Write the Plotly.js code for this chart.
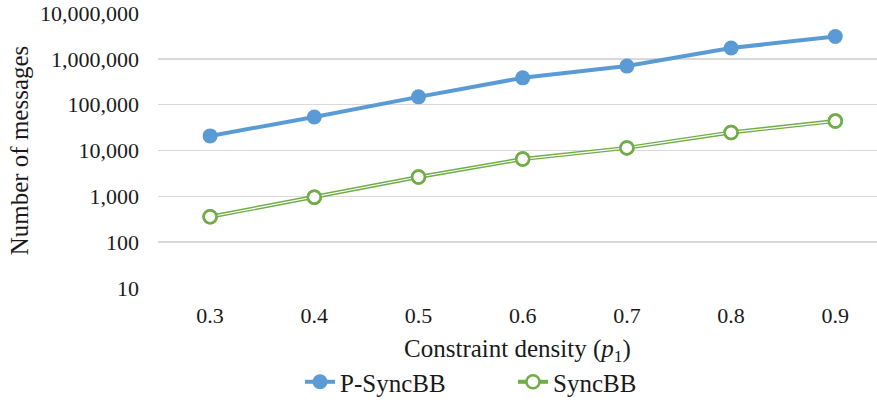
<!DOCTYPE html>
<html>
<head>
<meta charset="utf-8">
<script src="https://cdn.plot.ly/plotly-3.0.1.min.js"></script>
<style>html,body{margin:0;padding:0;background:#fff;}#chart{width:877px;height:406px;}</style>
</head>
<body>
<div id="chart"></div>
<script>
const density = [0.3, 0.4, 0.5, 0.6, 0.7, 0.8, 0.9];
const pSyncBB = [20800, 54000, 148000, 385000, 695000, 1720000, 3080000];
const syncBB = [358, 960, 2640, 6500, 11400, 24800, 43800];
const yTickVals = [10, 100, 1000, 10000, 100000, 1000000, 10000000];
const yTickText = ['10', '100', '1,000', '10,000', '100,000', '1,000,000', '10,000,000'];
const xTickText = ['0.3', '0.4', '0.5', '0.6', '0.7', '0.8', '0.9'];

const FONT = '"Liberation Serif", "Times New Roman", serif';
const TXT = '#1a1a1a';
const blue = '#5b9bd5';
const green = '#70ad47';

const traces = [
  {
    x: density, y: pSyncBB, name: 'P-SyncBB', mode: 'lines+markers',
    line: {color: blue, width: 4},
    marker: {symbol: 'circle', size: 15, color: blue}
  },
  {
    x: density, y: syncBB, name: 'SyncBB', mode: 'lines+markers',
    line: {color: green, width: 4},
    marker: {symbol: 'circle', size: 13, color: '#ffffff', line: {color: green, width: 2.5}}
  },
  {
    x: density, y: syncBB, name: 'SyncBB-inner', mode: 'lines', showlegend: false, hoverinfo: 'skip',
    line: {color: '#ffffff', width: 1.2}
  },
  {
    x: density, y: syncBB, name: 'SyncBB-markers', mode: 'markers', showlegend: false, hoverinfo: 'skip',
    marker: {symbol: 'circle', size: 13, color: 'rgba(255,255,255,0)', line: {color: green, width: 2.5}}
  }
];

const layout = {
  width: 877, height: 406,
  margin: {l: 158, r: 0, t: 13, b: 118},
  paper_bgcolor: '#ffffff', plot_bgcolor: '#ffffff',
  font: {family: FONT, size: 22, color: TXT},
  showlegend: true,
  legend: {
    orientation: 'h', xref: 'paper', x: 0.1975, xanchor: 'left',
    y: -0.342, yanchor: 'middle',
    font: {family: FONT, size: 25, color: TXT},
    entrywidth: 168, itemwidth: 30
  },
  xaxis: {
    type: 'linear', range: [0.25, 0.94],
    tickvals: density, ticktext: xTickText,
    showgrid: false, zeroline: false, showline: false, ticks: '',
    ticklabelstandoff: 12,
    tickfont: {family: FONT, size: 22, color: TXT},
    title: {text: 'Constraint density (<i>p</i><sub>1</sub>)', font: {family: FONT, size: 25, color: TXT}, standoff: 12},
    automargin: false
  },
  yaxis: {
    type: 'log', range: [1, 7],
    tickvals: yTickVals, ticktext: yTickText,
    showgrid: true, gridcolor: '#d9d9d9', gridwidth: 1.5,
    zeroline: false, showline: false, ticks: '',
    ticklabelstandoff: 18,
    tickfont: {family: FONT, size: 22, color: TXT},
    title: {text: 'Number of messages', font: {family: FONT, size: 25, color: TXT}, standoff: 4},
    automargin: false
  }
};

Plotly.newPlot('chart', traces, layout, {displayModeBar: false, staticPlot: true});
</script>
</body>
</html>
